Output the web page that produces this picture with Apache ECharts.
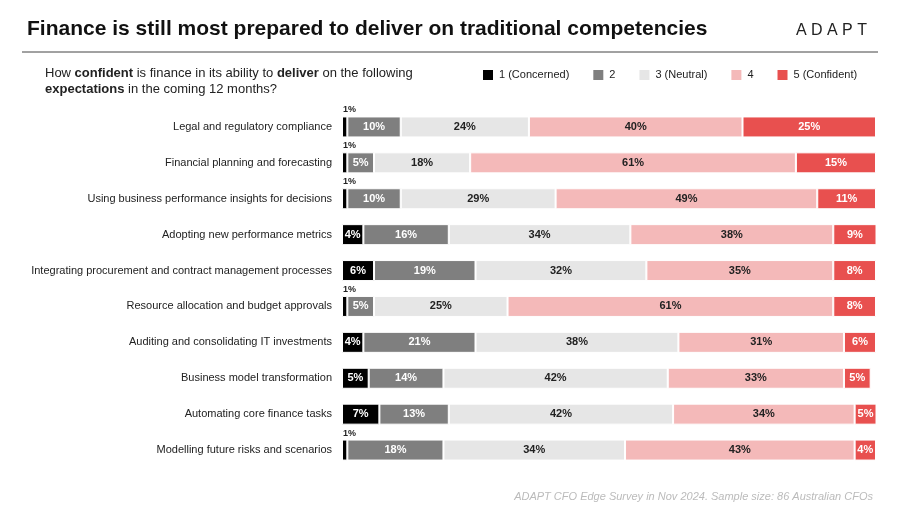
<!doctype html>
<html lang="en">
  <head>
    <meta charset="UTF-8" />
    <title>Finance readiness</title>
    <style>
      body { margin: 0; background: #fff; }
      #chart1 { width: 900px; height: 506px; }
    </style>
  </head>
  <body>
    <div id="chart1"></div>
    <script src="https://cdn.jsdelivr.net/npm/echarts@6/dist/echarts.min.js"></script>
    <script>
      const categories = [
        "Legal and regulatory compliance",
        "Financial planning and forecasting",
        "Using business performance insights for decisions",
        "Adopting new performance metrics",
        "Integrating procurement and contract management processes",
        "Resource allocation and budget approvals",
        "Auditing and consolidating IT investments",
        "Business model transformation",
        "Automating core finance tasks",
        "Modelling future risks and scenarios",
      ];
      const concerned = [1, 1, 1, 4, 6, 1, 4, 5, 7, 1];
      const two = [10, 5, 10, 16, 19, 5, 21, 14, 13, 18];
      const neutral = [24, 18, 29, 34, 32, 25, 38, 42, 42, 34];
      const four = [40, 61, 49, 38, 35, 61, 31, 33, 34, 43];
      const confident = [25, 15, 11, 9, 8, 8, 6, 5, 5, 4];

      const seriesNames = ["1 (Concerned)", "2", "3 (Neutral)", "4", "5 (Confident)"];
      const seriesData = [concerned, two, neutral, four, confident];
      const colors = ["#000000", "#7f7f7f", "#e6e6e6", "#f4b9b9", "#e8504f"];
      const labelColors = ["#fff", "#fff", "#222", "#222", "#fff"];

      const myChart = echarts.init(document.querySelector("#chart1"));

      const series = seriesData.map((arr, i) => ({
        name: seriesNames[i],
        type: "bar",
        stack: "all",
        barWidth: 21,
        itemStyle: { color: colors[i], borderColor: "#fff", borderWidth: 1 },
        label: {
          show: true,
          formatter: "{c}%",
          fontWeight: "bold",
          fontSize: 11,
          color: labelColors[i],
          fontFamily: "Liberation Sans",
        },
        data: arr.map((v) =>
          v <= 1
            ? { value: v, label: { position: "insideBottomLeft", offset: [-4, -18], color: "#222", fontSize: 9 } }
            : v
        ),
      }));

      const option = {
        textStyle: { fontFamily: "Liberation Sans" },
        title: [
          {
            text: "Finance is still most prepared to deliver on traditional competencies",
            left: 22, top: 14,
            textStyle: { fontSize: 21, fontWeight: "bold", color: "#111" },
          },
          {
            text: "A D A P T",
            right: 28, top: 18,
            textStyle: { fontSize: 16, fontWeight: "normal", color: "#222" },
          },
          {
            text: "{n|How }{b|confident}{n| is finance in its ability to }{b|deliver}{n| on the following}\n{b|expectations}{n| in the coming 12 months?}",
            left: 40, top: 60,
            textStyle: {
              fontWeight: "normal",
              rich: {
                n: { fontSize: 13, color: "#222", fontWeight: "normal", lineHeight: 16 },
                b: { fontSize: 13, color: "#222", fontWeight: "bold", lineHeight: 16 },
              },
            },
          },
          {
            text: "ADAPT CFO Edge Survey in Nov 2024. Sample size: 86 Australian CFOs",
            right: 22, top: 486,
            textStyle: { fontSize: 11, fontStyle: "italic", fontWeight: "normal", color: "#bbb" },
          },
        ],
        graphic: [
          { type: "line", shape: { x1: 22, y1: 52, x2: 878, y2: 52 }, style: { stroke: "#444", lineWidth: 1 } },
        ],
        legend: {
          data: seriesNames,
          left: 476, top: 63,
          itemWidth: 12, itemHeight: 12, itemGap: 22,
          icon: "rect",
          textStyle: { fontSize: 11, color: "#222" },
        },
        grid: { left: 342, right: 24, top: 109, bottom: 38 },
        xAxis: { type: "value", min: 0, max: 100, show: false },
        yAxis: {
          type: "category",
          inverse: true,
          data: categories,
          axisLine: { show: false },
          axisTick: { show: false },
          axisLabel: { fontSize: 11, color: "#222", margin: 10 },
        },
        series: series,
      };

      myChart.setOption(option);
    </script>
  </body>
</html>
